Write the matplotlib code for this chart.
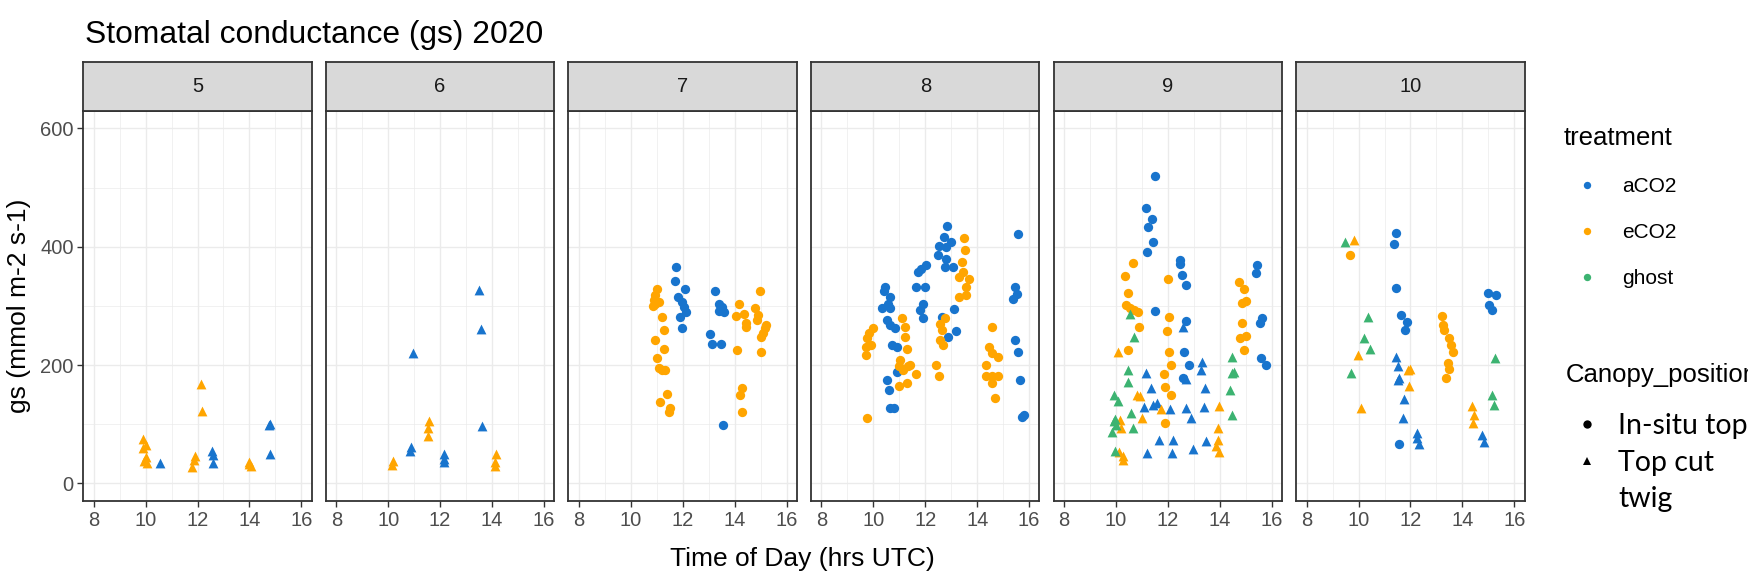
import matplotlib.pyplot as plt
import pandas as pd
from matplotlib.lines import Line2D

plt.rcParams['font.family'] = ['Liberation Sans', 'DejaVu Sans']

days = [5, 6, 7, 8, 9, 10]
treatments = ['aCO2', 'eCO2', 'ghost']
treatment_colors = {'aCO2': '#1874CD', 'eCO2': '#FFA500', 'ghost': '#3CB371'}
positions = ['In-situ top', 'Top cut twig']
position_markers = {'In-situ top': 'o', 'Top cut twig': '^'}

# (time of day in hrs UTC, gs in mmol m-2 s-1)
day5_eco2_cut = [(9.9, 75), (10.0, 65), (9.9, 60), (10.0, 45), (9.95, 38), (10.05, 35),
                 (12.13, 168), (12.18, 123), (11.9, 46), (11.85, 40), (11.8, 27),
                 (14.0, 33), (14.05, 29), (13.98, 36)]
day5_aco2_cut = [(10.56, 35), (12.57, 55), (12.6, 48), (12.6, 35), (14.76, 99), (14.8, 101), (14.8, 50)]

day6_aco2_cut = [(10.94, 220), (13.48, 327), (13.57, 261), (13.6, 97), (10.87, 62), (10.85, 55),
                 (12.14, 50), (12.14, 42), (12.16, 36)]
day6_eco2_cut = [(10.2, 38), (10.15, 31), (11.56, 106), (11.55, 93), (11.52, 80),
                 (14.15, 49), (14.12, 30), (14.1, 36)]

day7_eco2_insitu = [(11.0, 329), (10.94, 318), (10.88, 310), (10.94, 303), (11.1, 307), (10.86, 300),
                    (11.2, 282), (11.28, 259), (10.94, 242), (11.28, 228), (11.0, 212), (11.07, 195),
                    (11.19, 192), (11.32, 192), (11.41, 151), (11.13, 137), (11.51, 127), (11.48, 121),
                    (14.15, 303), (14.36, 287), (14.07, 283), (14.43, 272), (14.44, 265), (14.08, 226),
                    (14.27, 161), (14.2, 150), (14.27, 121),
                    (14.97, 325), (14.78, 296), (14.87, 277), (15.19, 262), (15.08, 254), (15.0, 248),
                    (15.03, 222), (14.9, 285), (15.22, 268)]
day7_aco2_insitu = [(11.76, 366), (11.7, 342), (12.09, 328), (11.83, 315), (11.96, 307), (12.05, 299),
                    (12.14, 289), (11.9, 282), (11.98, 262),
                    (13.26, 325), (13.39, 303), (13.52, 299), (13.6, 290), (13.41, 292), (13.06, 253),
                    (13.13, 235), (13.48, 235), (13.54, 98)]

day8_eco2_insitu = [(9.98, 262), (9.83, 254), (9.76, 245), (9.89, 234), (9.7, 231), (9.7, 217), (9.76, 111),
                    (11.09, 279), (11.22, 265), (11.22, 248), (11.28, 228), (11.03, 209), (10.97, 198),
                    (11.35, 198), (11.16, 192), (11.41, 200), (11.64, 185), (11.28, 169), (11.0, 165),
                    (12.55, 270), (12.65, 259), (12.55, 242), (12.67, 234), (12.42, 200), (12.52, 182),
                    (12.75, 279),
                    (13.48, 415), (13.54, 395), (13.41, 374), (13.46, 357), (13.31, 349), (13.69, 345),
                    (13.56, 332), (13.31, 315), (13.58, 318),
                    (14.58, 265), (14.45, 231), (14.58, 220), (14.8, 214), (14.35, 201), (14.32, 182),
                    (14.58, 181), (14.8, 182), (14.58, 169), (14.7, 144)]
day8_aco2_insitu = [(10.46, 332), (10.4, 325), (10.65, 315), (10.58, 304), (10.33, 296), (10.65, 296),
                    (10.52, 276), (10.65, 268), (10.84, 262), (10.71, 234), (10.9, 231), (10.52, 175),
                    (10.59, 158), (10.65, 127), (10.81, 127), (10.9, 189),
                    (11.73, 357), (11.85, 363), (12.04, 369), (11.66, 332), (11.98, 332), (11.92, 304),
                    (11.79, 293), (11.92, 279),
                    (12.84, 435), (12.71, 416), (13.0, 408), (12.51, 401), (12.8, 400), (12.49, 386),
                    (12.8, 380), (12.74, 366), (13.06, 366), (13.12, 295), (12.65, 282), (12.87, 247),
                    (13.18, 258),
                    (15.59, 422), (15.47, 332), (15.53, 321), (15.36, 311), (15.47, 242), (15.59, 222),
                    (15.66, 175), (15.74, 113), (15.81, 116)]

day9_aco2_insitu = [(11.5, 519), (11.16, 466), (11.38, 447), (11.25, 433), (11.44, 408), (11.18, 391),
                    (12.46, 378), (12.46, 371), (12.55, 352), (12.71, 335), (11.5, 292), (12.71, 275),
                    (12.61, 222), (12.8, 201), (12.58, 178),
                    (15.45, 369), (15.41, 355), (15.62, 279), (15.56, 272), (15.58, 212), (15.77, 201)]
day9_aco2_cut = [(12.59, 265), (11.16, 187), (13.31, 206), (13.28, 192), (11.34, 161), (11.06, 130),
                 (11.57, 136), (12.08, 125), (12.71, 127), (12.9, 111), (13.38, 130), (13.44, 161),
                 (11.67, 74), (12.2, 74), (11.18, 51), (12.14, 51), (12.97, 58), (13.48, 71),
                 (11.44, 133), (12.71, 176)]
day9_eco2_insitu = [(10.65, 372), (10.36, 351), (10.48, 322), (10.39, 301), (10.55, 296), (10.68, 293),
                    (10.83, 289), (10.87, 265), (10.46, 226),
                    (11.99, 345), (12.05, 282), (11.97, 258), (12.05, 222), (12.11, 201), (11.85, 185),
                    (11.9, 163), (12.11, 149), (11.9, 102),
                    (14.75, 340), (14.94, 328), (15.0, 309), (14.85, 305), (14.85, 272), (15.0, 249),
                    (14.78, 245), (14.94, 226)]
day9_eco2_cut = [(10.08, 222), (10.17, 108), (10.2, 94), (10.1, 53), (10.27, 40), (10.27, 46),
                 (10.8, 150), (10.93, 148), (10.99, 111), (11.72, 125),
                 (13.96, 131), (13.92, 94), (13.92, 74), (13.86, 63), (13.95, 53)]
day9_ghost_cut = [(10.55, 287), (10.71, 247), (10.46, 192), (10.48, 171), (9.94, 150), (10.08, 139),
                  (9.97, 109), (9.91, 105), (10.01, 99), (10.57, 119), (10.64, 94), (9.85, 87), (9.97, 54),
                  (14.47, 214), (14.47, 186), (14.56, 189), (14.39, 158), (14.47, 116)]

day10_ghost_cut = [(9.47, 408), (10.36, 282), (10.22, 245), (10.45, 228), (9.69, 187),
                   (15.26, 212), (15.13, 150), (15.22, 133)]
day10_eco2_cut = [(9.84, 412), (9.97, 217), (10.1, 127), (11.91, 191), (11.95, 165), (11.98, 193),
                  (14.37, 131), (14.45, 116), (14.39, 102)]
day10_eco2_insitu = [(9.66, 386), (13.22, 283), (13.27, 268), (13.3, 259), (13.5, 245), (13.57, 234),
                     (13.63, 223), (13.44, 203), (13.48, 193), (13.35, 178)]
day10_aco2_insitu = [(11.44, 423), (11.37, 405), (11.44, 331), (11.63, 285), (11.85, 273), (11.79, 260),
                     (11.57, 67), (15.0, 322), (15.28, 318), (15.03, 301), (15.13, 293)]
day10_aco2_cut = [(11.44, 214), (11.53, 198), (11.53, 175), (11.75, 143), (11.72, 111), (12.26, 85),
                  (12.24, 77), (12.33, 66), (14.75, 82), (14.84, 70), (11.57, 178)]

groups = [
    (5, 'eCO2', 'Top cut twig', day5_eco2_cut), (5, 'aCO2', 'Top cut twig', day5_aco2_cut),
    (6, 'aCO2', 'Top cut twig', day6_aco2_cut), (6, 'eCO2', 'Top cut twig', day6_eco2_cut),
    (7, 'eCO2', 'In-situ top', day7_eco2_insitu), (7, 'aCO2', 'In-situ top', day7_aco2_insitu),
    (8, 'eCO2', 'In-situ top', day8_eco2_insitu), (8, 'aCO2', 'In-situ top', day8_aco2_insitu),
    (9, 'aCO2', 'In-situ top', day9_aco2_insitu), (9, 'aCO2', 'Top cut twig', day9_aco2_cut),
    (9, 'eCO2', 'In-situ top', day9_eco2_insitu), (9, 'eCO2', 'Top cut twig', day9_eco2_cut),
    (9, 'ghost', 'Top cut twig', day9_ghost_cut),
    (10, 'ghost', 'Top cut twig', day10_ghost_cut), (10, 'eCO2', 'Top cut twig', day10_eco2_cut),
    (10, 'eCO2', 'In-situ top', day10_eco2_insitu), (10, 'aCO2', 'In-situ top', day10_aco2_insitu),
    (10, 'aCO2', 'Top cut twig', day10_aco2_cut),
]

records = []
for day, trt, pos, pts in groups:
    for x, y in pts:
        records.append((day, trt, pos, x, y))
df = pd.DataFrame(records, columns=['day', 'treatment', 'Canopy_position', 'time', 'gs'])

W, H = 1749, 584
fig = plt.figure(figsize=(W / 100, H / 100), dpi=100)


def rect(left, top, width, height):
    return [left / W, 1 - (top + height) / H, width / W, height / H]


panel_left, panel_step, panel_w = 83.3, 242.6, 228.4
panel_top, panel_h, strip_h = 110.7, 390.5, 48.4
border = '#333333'

for i, day in enumerate(days):
    left = panel_left + i * panel_step
    ax = fig.add_axes(rect(left, panel_top, panel_w, panel_h))
    sub = df[df['day'] == day]
    for (trt, pos), g in sub.groupby(['treatment', 'Canopy_position']):
        ax.scatter(g['time'], g['gs'], color=treatment_colors[trt], marker=position_markers[pos],
                   s=45 if pos == 'In-situ top' else 50, linewidths=0, zorder=3)
    ax.set_xlim(7.6, 16.4)
    ax.set_ylim(-30, 630)
    ax.set_xticks([8, 10, 12, 14, 16])
    ax.set_xticks([9, 11, 13, 15], minor=True)
    ax.set_yticks([0, 200, 400, 600])
    ax.set_yticks([100, 300, 500], minor=True)
    ax.grid(which='major', color='#EBEBEB', lw=1.0)
    ax.grid(which='minor', color='#EBEBEB', lw=0.5)
    ax.set_axisbelow(True)
    for sp in ax.spines.values():
        sp.set_color(border)
        sp.set_linewidth(1.3)
    ax.tick_params(which='major', direction='out', length=4, width=1.0, color=border,
                   labelcolor='#4D4D4D', labelsize=14.5, pad=3)
    ax.tick_params(which='minor', length=0)
    if i > 0:
        ax.tick_params(axis='y', which='both', length=0, labelleft=False)

    strip = fig.add_axes(rect(left, panel_top - strip_h, panel_w, strip_h))
    strip.set_facecolor('#D9D9D9')
    strip.set_xticks([])
    strip.set_yticks([])
    for sp in strip.spines.values():
        sp.set_color(border)
        sp.set_linewidth(1.3)
    strip.text(0.5, 0.5, str(day), ha='center', va='center', fontsize=14.5, color='#1A1A1A',
               transform=strip.transAxes)

fig.text(85 / W, 1 - 43.3 / H, 'Stomatal conductance (gs) 2020', fontsize=22.85, ha='left', va='baseline')
fig.text(19 / W, 1 - (panel_top + panel_h / 2) / H, 'gs (mmol m-2 s-1)', fontsize=19, rotation=90,
         ha='center', va='center')
fig.text(802.5 / W, 1 - 566 / H, 'Time of Day (hrs UTC)', fontsize=19, ha='center', va='baseline')

# treatment legend
trt_handles = [Line2D([], [], ls='None', marker='o', markersize=5.3, markerfacecolor=treatment_colors[t],
                      markeredgewidth=0) for t in treatments]
fig.legend(trt_handles, treatments, title='treatment', loc='upper left',
           bbox_to_anchor=(1564 / W, 1 - 126 / H), frameon=False, fontsize=15, title_fontsize=18.5,
           alignment='left', handlelength=2.2, handletextpad=0.58, labelspacing=1.3,
           borderpad=0, borderaxespad=0)

# canopy position legend (the second label wraps onto a line of its own)
fig.text(1566 / W, 1 - 375 / H, 'Canopy_position', fontsize=18.5, ha='left', va='center')
pos_handles = [Line2D([], [], ls='None', marker=position_markers[p], markersize=6, markerfacecolor='black',
                      markeredgewidth=0) for p in positions]
pos_handles.append(Line2D([], [], ls='None', marker=None))
fig.legend(pos_handles, ['In-situ top', 'Top cut', 'twig'], loc='upper left',
           bbox_to_anchor=(1575 / W, 1 - 413 / H), frameon=False,
           prop={'family': 'Lato', 'size': 20.5}, handlelength=0.86, handletextpad=0.65,
           labelspacing=0.37, borderpad=0, borderaxespad=0)

fig.savefig('out.png', dpi=100)
